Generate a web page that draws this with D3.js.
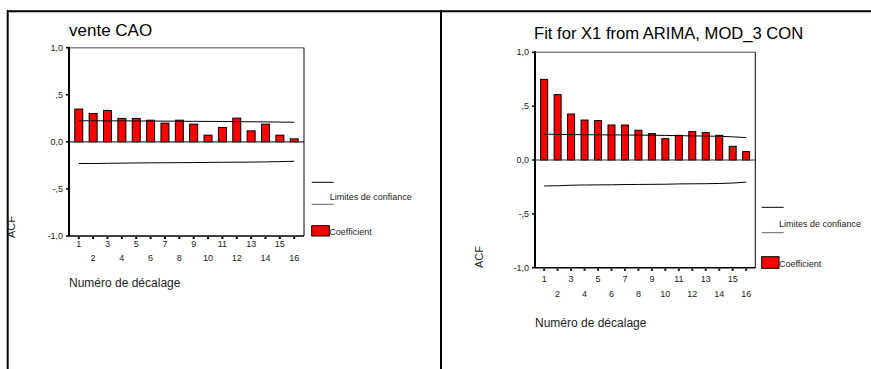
<!DOCTYPE html>
<html>
<head>
<meta charset="utf-8">
<script src="https://cdn.jsdelivr.net/npm/d3@7/dist/d3.min.js"></script>
<style>
    body { margin: 0; background: #ffffff; }
    svg { display: block; font-family: Arial, "Liberation Sans", sans-serif; }
</style>
</head>
<body>
<svg id="acf_svg"></svg>
<script>
"use strict";

const width = 871;
const height = 369;

// data
const lags = [1, 2, 3, 4, 5, 6, 7, 8, 9, 10, 11, 12, 13, 14, 15, 16];

const y_ticks = [1, 0.5, 0, -0.5, -1];
const y_tick_labels = ["1,0", ",5", "0,0", "-,5", "-1,0"];

const vente_coef = [0.348, 0.300, 0.334, 0.249, 0.248, 0.230, 0.199, 0.230, 0.188, 0.071, 0.153, 0.252, 0.117, 0.188, 0.071, 0.032];
const vente_upper = [0.224, 0.224, 0.223, 0.223, 0.222, 0.221, 0.220, 0.219, 0.218, 0.217, 0.216, 0.215, 0.213, 0.212, 0.210, 0.208];
const vente_lower = [-0.230, -0.230, -0.228, -0.226, -0.224, -0.223, -0.222, -0.221, -0.220, -0.218, -0.217, -0.216, -0.215, -0.213, -0.210, -0.206];

const fit_coef = [0.749, 0.607, 0.427, 0.371, 0.366, 0.325, 0.325, 0.276, 0.245, 0.198, 0.229, 0.263, 0.254, 0.229, 0.127, 0.078];
const fit_upper = [0.239, 0.238, 0.236, 0.235, 0.234, 0.233, 0.232, 0.231, 0.230, 0.228, 0.226, 0.224, 0.222, 0.220, 0.215, 0.208];
const fit_lower = [-0.241, -0.239, -0.234, -0.232, -0.231, -0.230, -0.228, -0.227, -0.226, -0.225, -0.222, -0.221, -0.220, -0.218, -0.214, -0.205];

const svg = d3.select("#acf_svg")
    .attr("width", width)
    .attr("height", height);

// outer frame
svg.append("line").attr("x1", 7).attr("x2", width).attr("y1", 11.3).attr("y2", 11.3)
    .attr("stroke", "#000").attr("stroke-width", 2);
svg.append("line").attr("x1", 7.7).attr("x2", 7.7).attr("y1", 10.3).attr("y2", height)
    .attr("stroke", "#000").attr("stroke-width", 2);
svg.append("line").attr("x1", 441).attr("x2", 441).attr("y1", 10.3).attr("y2", height)
    .attr("stroke", "#000").attr("stroke-width", 2);


function drawPanel(p) {
    const g = svg.append("g");

    const x = d3.scalePoint()
        .domain(lags)
        .range([p.x0, p.x1])
        .padding(0.68);

    const y = d3.scaleLinear()
        .domain([-1, 1])
        .range([p.y1, p.y0]);

    // title
    g.append("text")
        .attr("x", p.titleX)
        .attr("y", p.titleY)
        .style("font-size", p.titleSize + "px")
        .style("fill", "#000")
        .text(p.title);

    // bars
    g.selectAll("rect.bar")
        .data(p.coef)
        .enter()
        .append("rect")
        .attr("class", "bar")
        .attr("x", (d, i) => x(lags[i]) - p.barWidth / 2)
        .attr("y", d => y(d))
        .attr("width", p.barWidth)
        .attr("height", d => y(0) - y(d))
        .attr("fill", "#ff0000")
        .attr("stroke", "#000")
        .attr("stroke-width", 1);

    // zero line
    g.append("line")
        .attr("x1", p.x0).attr("x2", p.x1)
        .attr("y1", y(0)).attr("y2", y(0))
        .attr("stroke", "#333").attr("stroke-width", 1.2);

    // confidence limits
    const line = d3.line()
        .x((d, i) => x(lags[i]))
        .y(d => y(d));

    g.append("path").datum(p.upper)
        .attr("d", line).attr("fill", "none")
        .attr("stroke", "#000").attr("stroke-width", 1);
    g.append("path").datum(p.lower)
        .attr("d", line).attr("fill", "none")
        .attr("stroke", "#000").attr("stroke-width", 1);

    // frame
    g.append("line").attr("x1", p.x0).attr("x2", p.x1).attr("y1", p.y0).attr("y2", p.y0)
        .attr("stroke", "#888").attr("stroke-width", 1.5);
    g.append("line").attr("x1", p.x1).attr("x2", p.x1).attr("y1", p.y0).attr("y2", p.y1)
        .attr("stroke", "#000").attr("stroke-width", 1);
    g.append("line").attr("x1", p.x0).attr("x2", p.x1).attr("y1", p.y1).attr("y2", p.y1)
        .attr("stroke", "#000").attr("stroke-width", 1.5);
    g.append("line").attr("x1", p.x0).attr("x2", p.x0).attr("y1", p.y0 - 1).attr("y2", p.y1)
        .attr("stroke", "#000").attr("stroke-width", 2);

    // y ticks
    g.selectAll("line.ytick")
        .data(y_ticks)
        .enter()
        .append("line")
        .attr("x1", p.x0 - 3).attr("x2", p.x0)
        .attr("y1", d => y(d)).attr("y2", d => y(d))
        .attr("stroke", "#000").attr("stroke-width", 1.5);

    g.selectAll("text.ytick")
        .data(y_ticks)
        .enter()
        .append("text")
        .attr("x", p.x0 - 6)
        .attr("y", d => y(d) + 3)
        .attr("text-anchor", "end")
        .style("font-size", "9px")
        .style("fill", "#222")
        .text((d, i) => y_tick_labels[i]);

    // x ticks
    g.selectAll("rect.xtick")
        .data(lags)
        .enter()
        .append("rect")
        .attr("x", d => x(d) - 1)
        .attr("y", p.y1 + 1)
        .attr("width", 2)
        .attr("height", 2)
        .attr("fill", "#000");

    g.selectAll("text.xtick")
        .data(lags)
        .enter()
        .append("text")
        .attr("x", d => x(d))
        .attr("y", d => (d % 2 === 1 ? p.xOddY : p.xEvenY) + 3)
        .attr("text-anchor", "middle")
        .style("font-size", "9px")
        .style("fill", "#222")
        .text(d => d);

    // axis titles
    g.append("text")
        .attr("x", p.x0)
        .attr("y", p.xlabelY + 4)
        .style("font-size", "12px")
        .style("fill", "#222")
        .text("Numéro de décalage");

    g.append("text")
        .attr("transform", `translate(${p.acfX + 4}, ${p.acfY}) rotate(-90)`)
        .attr("text-anchor", "middle")
        .style("font-size", "11px")
        .style("fill", "#222")
        .text("ACF");

    // legend
    const lg = p.legend;
    g.append("line").attr("x1", lg.x).attr("x2", lg.x + 22).attr("y1", lg.line1Y).attr("y2", lg.line1Y)
        .attr("stroke", "#000").attr("stroke-width", 1);
    g.append("line").attr("x1", lg.x).attr("x2", lg.x + 22).attr("y1", lg.line2Y).attr("y2", lg.line2Y)
        .attr("stroke", "#666").attr("stroke-width", 1);
    g.append("text")
        .attr("x", lg.textX).attr("y", lg.textY + 3)
        .style("font-size", "9px").style("fill", "#222")
        .text("Limites de confiance");
    g.append("rect")
        .attr("x", lg.x).attr("y", lg.rectY)
        .attr("width", lg.rectW).attr("height", lg.rectH)
        .attr("fill", "#ff0000").attr("stroke", "#000").attr("stroke-width", 1);
    g.append("text")
        .attr("x", lg.x + lg.rectW).attr("y", lg.coefY + 3)
        .style("font-size", "9px").style("fill", "#222")
        .text("Coefficient");
}


drawPanel({
    title: "vente CAO",
    titleX: 69, titleY: 35.7, titleSize: 17,
    x0: 69, x1: 304, y0: 47.7, y1: 236,
    barWidth: 8,
    coef: vente_coef, upper: vente_upper, lower: vente_lower,
    xOddY: 244, xEvenY: 258,
    xlabelY: 282.7,
    acfX: 11, acfY: 227,
    legend: { x: 311.7, line1Y: 182.3, line2Y: 204.3, textX: 329.7, textY: 197,
              rectY: 225.7, rectW: 17.6, rectH: 10.3, coefY: 232 }
});

drawPanel({
    title: "Fit for X1 from ARIMA, MOD_3 CON",
    titleX: 534, titleY: 39, titleSize: 16.6,
    x0: 535, x1: 755.3, y0: 52.3, y1: 267.7,
    barWidth: 7,
    coef: fit_coef, upper: fit_upper, lower: fit_lower,
    xOddY: 279.3, xEvenY: 294,
    xlabelY: 322.7,
    acfX: 479, acfY: 257,
    legend: { x: 761.7, line1Y: 207.3, line2Y: 232.7, textX: 779, textY: 224,
              rectY: 256.7, rectW: 17.3, rectH: 11.6, coefY: 264 }
});
</script>
</body>
</html>
